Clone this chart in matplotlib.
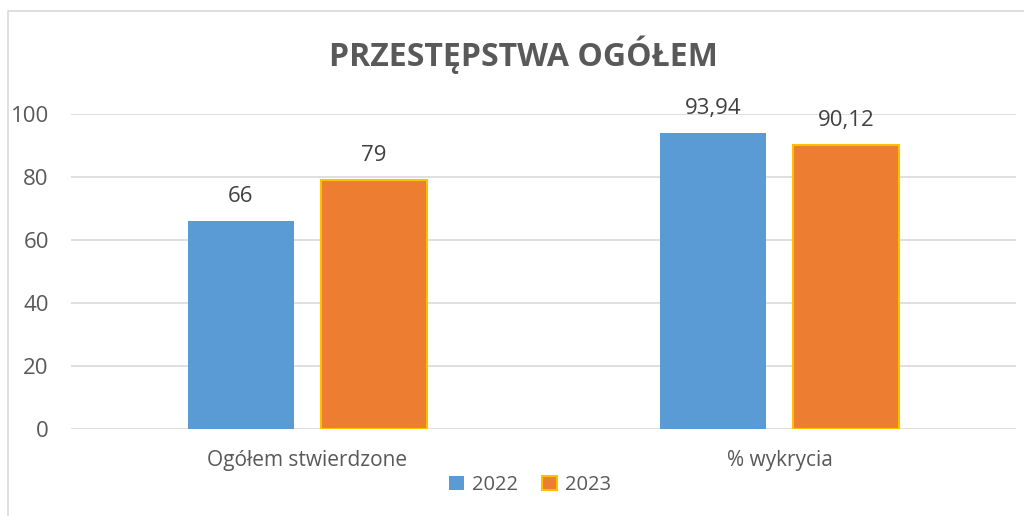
import numpy as np
import matplotlib.pyplot as plt
from matplotlib.patches import Rectangle

categories = ["Ogółem stwierdzone", "% wykrycia"]
years = ["2022", "2023"]
values_2022 = [66, 93.94]
values_2023 = [79, 90.12]
labels_2022 = ["66", "93,94"]
labels_2023 = ["79", "90,12"]

plt.rcParams['font.family'] = ['Open Sans', 'DejaVu Sans']

fig = plt.figure(figsize=(10.24, 5.16), dpi=100)
W, H = 1024, 516
# plot area in pixels: x 71..1016, y 114 (100) .. 429 (0)
ax = fig.add_axes([71 / W, 1 - 429 / H, (1016 - 71) / W, (429 - 114) / H])

x = np.arange(len(categories))
width = 0.224
off = 0.141
b1 = ax.bar(x - off, values_2022, width, color='#5B9BD5', label=years[0], zorder=3)
b2 = ax.bar(x + off, values_2023, width, color='#ED7D31', edgecolor='#FFC000',
            linewidth=1.5, label=years[1], zorder=3)

for bars, labs in ((b1, labels_2022), (b2, labels_2023)):
    for rect, lab in zip(bars, labs):
        ax.annotate(lab, (rect.get_x() + rect.get_width() / 2, rect.get_height()),
                    xytext=(0, 10), textcoords='offset points', ha='center', va='bottom',
                    fontsize=16, color='#404040')

ax.set_xlim(-0.5, 1.5)
ax.set_ylim(0, 100)
ax.set_yticks(range(0, 101, 20))
ax.set_xticks(x)
ax.set_xticklabels(categories)
ax.tick_params(axis='y', length=0, pad=16, labelsize=16, labelcolor='#595959')
ax.tick_params(axis='x', length=0, pad=15, labelsize=15, labelcolor='#595959')
ax.grid(axis='y', color='#D9D9D9', linewidth=1.2, zorder=0)
for s in ax.spines.values():
    s.set_visible(False)

fig.text(523 / W, 1 - 55 / H, "PRZESTĘPSTWA OGÓŁEM", ha='center', va='center',
         fontsize=23, fontweight='bold', color='#595959')

leg = fig.legend(loc='center', bbox_to_anchor=(530 / W, 1 - 485 / H), ncol=2,
                 frameon=False, fontsize=14.5, handlelength=0.75, handleheight=0.75,
                 columnspacing=1.2, handletextpad=0.4)
for t in leg.get_texts():
    t.set_color('#595959')

# chart border (top and left visible)
fig.add_artist(Rectangle((8 / W, -0.05), 1.1, 1 - 11 / H + 0.05, transform=fig.transFigure,
                         fill=False, edgecolor='#D9D9D9', linewidth=1.2))

fig.savefig("out.png", dpi=100)
